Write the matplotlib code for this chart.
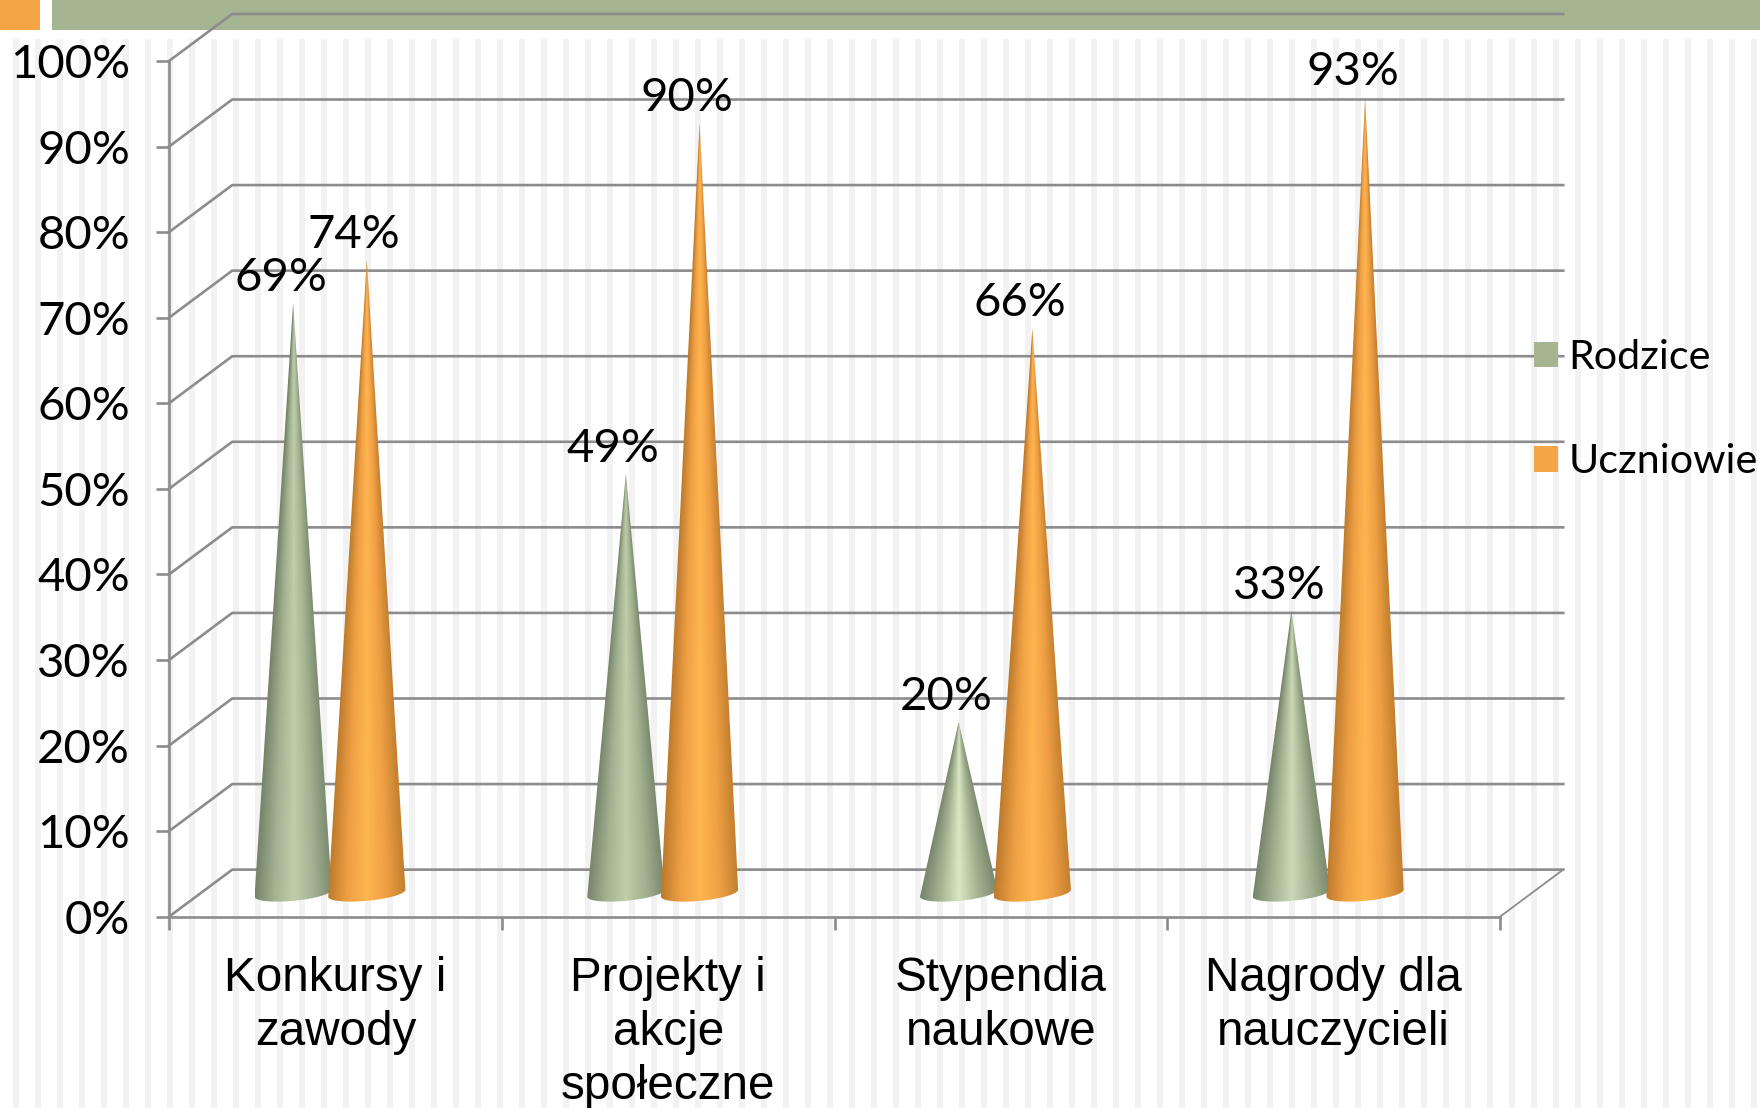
import numpy as np
import matplotlib
matplotlib.use('Agg')
import matplotlib.pyplot as plt
from matplotlib.colors import LinearSegmentedColormap
from matplotlib.patches import Patch, PathPatch, Rectangle
from matplotlib.path import Path

categories = ['Konkursy i\nzawody', 'Projekty i\nakcje\nspołeczne', 'Stypendia\nnaukowe', 'Nagrody dla\nnauczycieli']
rodzice = [69, 49, 20, 33]
uczniowie = [74, 90, 66, 93]
y_ticks = [0, 10, 20, 30, 40, 50, 60, 70, 80, 90, 100]

W, H = 1760, 1108
GREEN = '#a5b592'
ORANGE = '#f5a546'
GRID = '#8c8c8c'

# depth of the fake 3d box, in data units
DEPTH_X = 0.19
DEPTH_Y = 5.5
CONE_W = 0.116
BASE_H = 0.9
BASE_TILT = 0.41

# the short green cones have a brighter highlight
green_highlight = ['#bfcdaa', '#bfcdaa', '#d8e8c4', '#cad9b6']
cmap_orange = LinearSegmentedColormap.from_list('o', ['#bd7a2c', '#f0a044', '#ffb550', '#f0a044', '#c27f2f'])


def cone(ax, x, value, cmap, z):
    base = DEPTH_Y / 2
    top = DEPTH_Y / 2 + value
    xs = np.linspace(x - CONE_W, x + CONE_W, 160)
    ys = np.linspace(base - BASE_H - BASE_TILT, top, 500)
    xx, yy = np.meshgrid(xs, ys)
    frac = np.clip((top - yy) / (top - base), 0.004, 1)
    u = np.clip((xx - x) / (CONE_W * frac), -1, 1)
    im = ax.imshow((u + 1) / 2, extent=[xs[0], xs[-1], ys[0], ys[-1]], origin='lower',
                   aspect='auto', cmap=cmap, vmin=0, vmax=1, zorder=z, clip_on=True)
    # outline: both sides up to the tip, lower half of the tilted base ellipse
    t = np.linspace(np.pi, 2 * np.pi, 40)
    verts = [(x, top)]
    for a in t:
        verts.append((x + CONE_W * np.cos(a), base + BASE_H * np.sin(a) + BASE_TILT * np.cos(a)))
    verts.append((x, top))
    codes = [Path.MOVETO] + [Path.LINETO] * (len(verts) - 2) + [Path.CLOSEPOLY]
    clip = PathPatch(Path(verts, codes), transform=ax.transData, fc='none', ec='none')
    ax.add_patch(clip)
    im.set_clip_path(clip)
    ax.annotate('%d%%' % value, (x, top), xytext=(-9, 18), textcoords='offset points',
                ha='center', va='center', fontsize=34, family='Lato', color='black', zorder=10)


fig = plt.figure(figsize=(W / 100, H / 100), dpi=100)

# stripes and header bars of the slide
for sx in np.arange(13, W, 22):
    fig.add_artist(Rectangle((sx / W, 0), 6 / W, 1 - 39 / H, transform=fig.transFigure,
                             fc='#f2f2f2', ec='none', zorder=-2))
fig.add_artist(Rectangle((0, 1 - 30 / H), 40 / W, 30 / H, transform=fig.transFigure, fc=ORANGE, ec='none', zorder=-1))
fig.add_artist(Rectangle((52 / W, 1 - 30 / H), 1 - 52 / W, 30 / H, transform=fig.transFigure, fc=GREEN, ec='none', zorder=-1))

ax = fig.add_axes([169 / W, (H - 916.7) / H, 1331 / W, 855.7 / H])
ax.patch.set_alpha(0)

# back wall and side wall
for v in y_ticks:
    ax.plot([0, DEPTH_X, 4 + DEPTH_X], [v, v + DEPTH_Y, v + DEPTH_Y], color=GRID, lw=1.9, clip_on=False, zorder=1)
ax.plot([4, 4 + DEPTH_X], [0, DEPTH_Y], color=GRID, lw=1.3, clip_on=False, zorder=1)

for i in range(len(categories)):
    cmap_green = LinearSegmentedColormap.from_list('g', ['#76856a', '#a3b291', green_highlight[i], '#a3b291', '#7b8a6e'])
    cone(ax, i + 0.5 - 0.127, rodzice[i], cmap_green, 3)
    cone(ax, i + 0.5 + 0.0945, uczniowie[i], cmap_orange, 4)

ax.set_xlim(0, 4)
ax.set_ylim(0, 100)
for s in ['top', 'right']:
    ax.spines[s].set_visible(False)
for s in ['left', 'bottom']:
    ax.spines[s].set_color(GRID)
    ax.spines[s].set_linewidth(1.9)

ax.set_yticks(y_ticks)
ax.set_yticklabels(['%d%%' % v for v in y_ticks], fontsize=34, family='Lato', color='black')
ax.tick_params(axis='y', length=9.5, width=1.9, color=GRID, pad=18.5)
ax.set_xticks(range(5))
ax.set_xticklabels([])
ax.tick_params(axis='x', length=9.5, width=1.9, color=GRID)
ax.set_xticks([i + 0.5 for i in range(4)], minor=True)
ax.set_xticklabels(categories, minor=True, fontsize=34.3, family='Liberation Sans', color='black', linespacing=1.25)
ax.tick_params(axis='x', which='minor', length=0, pad=28.6)

handles = [Patch(fc=GREEN, ec='none', label='Rodzice'), Patch(fc=ORANGE, ec='none', label='Uczniowie')]
leg = ax.legend(handles=handles, loc='upper left', bbox_to_anchor=(1534 / W, 1 - 339 / H),
                bbox_transform=fig.transFigure, frameon=False, borderpad=0, borderaxespad=0,
                prop={'family': 'Lato', 'size': 29.7}, handlelength=0.58, handleheight=0.58,
                handletextpad=0.25, labelspacing=1.63)

fig.savefig('out.png', dpi=100)
